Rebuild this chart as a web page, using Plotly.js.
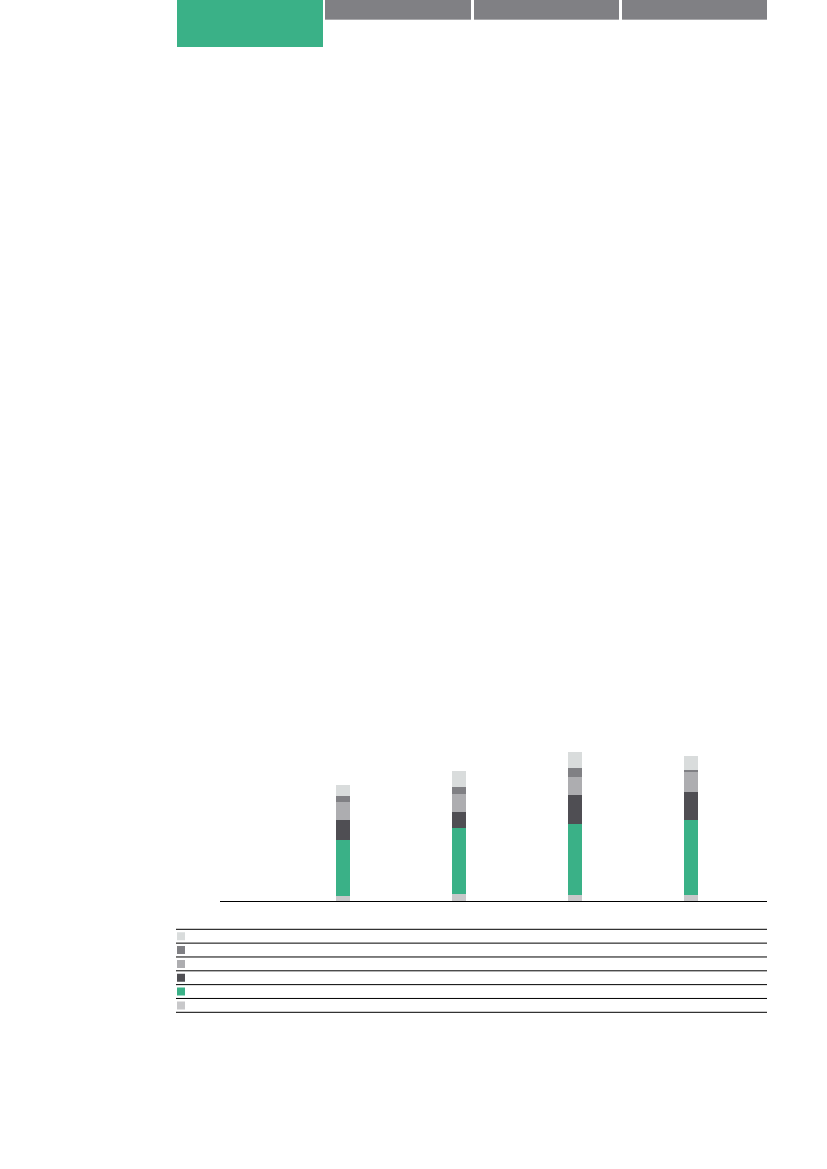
<!DOCTYPE html>
<html>
<head>
<meta charset="utf-8">
<script src="https://cdn.plot.ly/plotly-3.0.1.min.js"></script>
<style>
  html, body { margin: 0; padding: 0; background: #ffffff; }
  #chart { width: 827px; height: 1169px; }
</style>
</head>
<body>
<div id="chart"></div>
<script>
// four columns, six stacked parts each (bottom part first)
const categories = ['1', '2', '3', '4'];
const partBase   = [5, 7, 6, 6];
const partGreen  = [56, 66, 71, 75];
const partDark   = [20, 16, 29, 28];
const partMid    = [18, 18, 18, 20];
const partSlate  = [6, 7, 9, 2.3];
const partLight  = [11, 15.7, 16, 14];

const seriesNames  = ['Part 1', 'Part 2', 'Part 3', 'Part 4', 'Part 5', 'Part 6'];
const seriesValues = [partBase, partGreen, partDark, partMid, partSlate, partLight];
const seriesColors = ['#c8c8ca', '#3ab187', '#4f4e53', '#adadb0', '#808084', '#d9dcdc'];

const W = 827, H = 1169;
const px = x => x / W;
const py = y => 1 - y / H;
const ROW = 13.83;

function chartSetup() {
    const traces = seriesValues.map((vals, i) => ({
        type: 'bar',
        name: seriesNames[i],
        x: categories,
        y: vals,
        width: 0.121,
        marker: { color: seriesColors[i], line: { width: 0 } },
        xaxis: 'x',
        yaxis: 'y',
        showlegend: false,
        hoverinfo: 'name+y'
    }));

    // key rows: top row is the top part of the stack
    const keyRows = seriesNames.map((_, i) => seriesNames.length - 1 - i);
    traces.push({
        type: 'scatter',
        mode: 'markers',
        x: keyRows.map(() => 5),
        y: keyRows.map((_, r) => r),
        text: keyRows.map(i => seriesNames[i]),
        marker: {
            symbol: 'square',
            size: 8,
            color: keyRows.map(i => seriesColors[i])
        },
        xaxis: 'x2',
        yaxis: 'y2',
        showlegend: false,
        hoverinfo: 'text'
    });

    const shapes = [];
    // header tabs
    shapes.push({ type: 'rect', xref: 'paper', yref: 'paper',
        x0: px(177), x1: px(323), y0: py(47), y1: py(0),
        fillcolor: '#3ab187', line: { width: 0 }, layer: 'below' });
    [[325, 471], [474, 619], [622, 767]].forEach(([a, b]) => {
        shapes.push({ type: 'rect', xref: 'paper', yref: 'paper',
            x0: px(a), x1: px(b), y0: py(19.5), y1: py(0),
            fillcolor: '#808084', line: { width: 0 }, layer: 'below' });
        shapes.push({ type: 'line', xref: 'paper', yref: 'paper',
            x0: px(a), x1: px(b), y0: py(19.5), y1: py(19.5),
            line: { color: '#a8a8ab', width: 1 }, layer: 'below' });
    });
    // key rules
    for (let r = 0; r <= seriesNames.length; r++) {
        shapes.push({ type: 'line', xref: 'paper', yref: 'y2',
            x0: px(176), x1: px(767), y0: r - 0.5, y1: r - 0.5,
            line: { color: '#000000', width: 1 } });
    }

    const layout = {
        width: W,
        height: H,
        margin: { l: 0, r: 0, t: 0, b: 0, pad: 0 },
        paper_bgcolor: '#ffffff',
        plot_bgcolor: 'rgba(0,0,0,0)',
        barmode: 'stack',
        bargap: 0,
        xaxis: {
            domain: [px(220), px(767)],
            type: 'category',
            range: [-1.062, 3.66],
            showline: true,
            linecolor: '#000000',
            linewidth: 1,
            showgrid: false,
            zeroline: false,
            ticks: '',
            showticklabels: false,
            fixedrange: true
        },
        yaxis: {
            domain: [py(901), py(700)],
            range: [0, 201],
            visible: false,
            fixedrange: true
        },
        xaxis2: {
            domain: [px(176), px(767)],
            range: [0, 591],
            visible: false,
            anchor: 'y2',
            fixedrange: true
        },
        yaxis2: {
            // one spare row above and below so the outer rules are not clipped
            domain: [py(1012.3 + ROW), py(929.3 - ROW)],
            range: [6.5, -1.5],
            visible: false,
            anchor: 'x2',
            fixedrange: true
        },
        shapes: shapes
    };

    Plotly.newPlot('chart', traces, layout, { displayModeBar: false });
}

chartSetup();
</script>
</body>
</html>
